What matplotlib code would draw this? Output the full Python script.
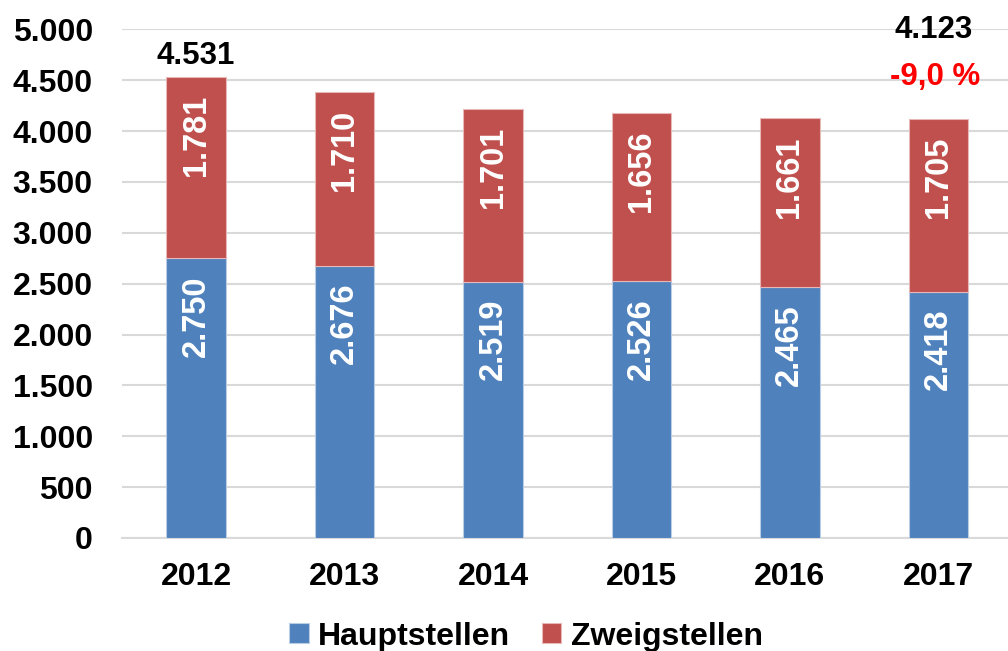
import numpy as np
import matplotlib.pyplot as plt

years = ['2012', '2013', '2014', '2015', '2016', '2017']
haupt = [2750, 2676, 2519, 2526, 2465, 2418]
zweig = [1781, 1710, 1701, 1656, 1661, 1705]
change_label = '-9,0 %'


def de(v):
    return f'{v:,.0f}'.replace(',', '.')


plt.rcParams['font.family'] = ['Liberation Sans', 'DejaVu Sans']
plt.rcParams['font.weight'] = 'bold'

fig = plt.figure(figsize=(10.08, 6.51), dpi=100)
ax = fig.add_axes([0.121, 0.1736, 0.879, 0.7814])

x = np.arange(len(years))
totals = [h + z for h, z in zip(haupt, zweig)]
b1 = ax.bar(x, haupt, width=0.4, color='#4F81BD', edgecolor='#B9CDE5',
            linewidth=0.8, label='Hauptstellen', zorder=3)
b2 = ax.bar(x, zweig, bottom=haupt, width=0.4, color='#C0504D',
            edgecolor='#E6B9B8', linewidth=0.8, label='Zweigstellen', zorder=3)

# labels sit near the top of each segment (inside end)
for i in range(len(years)):
    ax.annotate(de(haupt[i]), (x[i], haupt[i]), xytext=(0, -17),
                textcoords='offset pixels', rotation=90, ha='center',
                va='top', color='white', fontsize=23.5, fontweight='bold',
                zorder=4)
    ax.annotate(de(zweig[i]), (x[i], totals[i]), xytext=(0, -18),
                textcoords='offset pixels', rotation=90, ha='center',
                va='top', color='white', fontsize=23.5, fontweight='bold',
                zorder=4)

# totals only for first and last year
ax.text(x[0], totals[0] + 60, de(totals[0]), ha='center', va='bottom',
        fontsize=22.5, fontweight='bold')
ax.text(x[-1] - 0.03, 4850, de(totals[-1]), ha='center', va='bottom',
        fontsize=22.5, fontweight='bold')
ax.text(x[-1] - 0.02, 4380, change_label, ha='center', va='bottom',
        fontsize=22.5, fontweight='bold', color='red')

ax.set_ylim(0, 5000)
ax.set_xlim(-0.5, len(years) - 0.53)
ax.set_yticks(np.arange(0, 5001, 500))
ax.set_yticklabels([de(v) for v in np.arange(0, 5001, 500)])
ax.set_xticks(x)
ax.set_xticklabels(years)
ax.tick_params(axis='both', length=0, labelsize=23)
ax.tick_params(axis='x', pad=17)
ax.tick_params(axis='y', pad=21)
for lbl in ax.get_yticklabels() + ax.get_xticklabels():
    lbl.set_fontweight('bold')

ax.grid(axis='y', color='#D9D9D9', linewidth=1.5, zorder=0)
for s in ['top', 'right', 'left']:
    ax.spines[s].set_visible(False)
ax.spines['bottom'].set_color('#D9D9D9')
ax.spines['bottom'].set_linewidth(1.5)

leg = fig.legend(handles=[b1, b2], loc='lower center', ncol=2,
                 bbox_to_anchor=(0.522, -0.045), frameon=False, fontsize=23,
                 handlelength=0.6, handleheight=0.6, handletextpad=0.3,
                 columnspacing=1.0)

fig.savefig('out.png', dpi=100)
